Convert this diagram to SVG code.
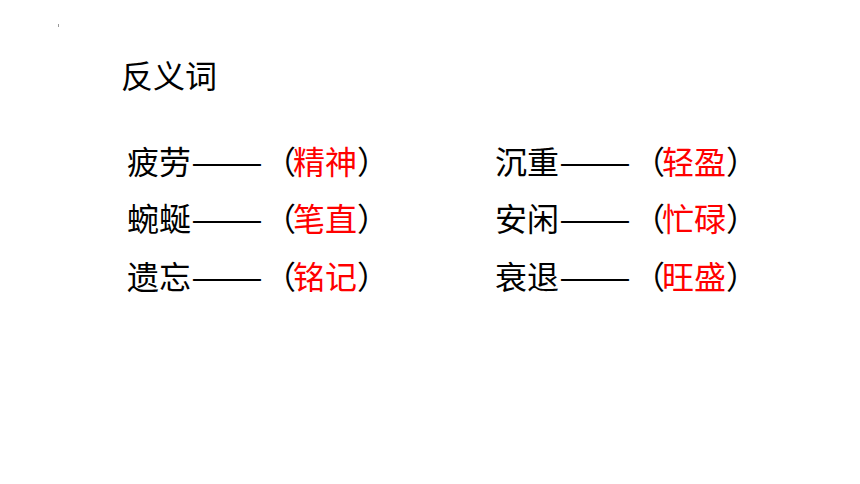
<svg xmlns="http://www.w3.org/2000/svg" width="860" height="484" viewBox="0 0 860 484">
<style>
text{font-family:"Noto Sans CJK SC","Microsoft YaHei",sans-serif;font-size:32px;fill:#000}
.r{fill:#ff0000}
</style>
<rect width="860" height="484" fill="#fff"/>
<rect x="58" y="24" width="1" height="3" fill="#999"/>
<g id="title"><text x="121" y="88">反义词</text></g>
<g id="row1-left">
<text x="127" y="174">疲劳</text>
<text x="191" y="174" textLength="72" lengthAdjust="spacingAndGlyphs">——</text>
<text x="264" y="174">（</text>
<text class="r" x="293" y="174">精神</text>
<text x="357" y="174">）</text>
</g>
<g id="row2-left">
<text x="127" y="231">蜿蜒</text>
<text x="191" y="231" textLength="72" lengthAdjust="spacingAndGlyphs">——</text>
<text x="264" y="231">（</text>
<text class="r" x="293" y="231">笔直</text>
<text x="357" y="231">）</text>
</g>
<g id="row3-left">
<text x="127" y="289">遗忘</text>
<text x="191" y="289" textLength="72" lengthAdjust="spacingAndGlyphs">——</text>
<text x="264" y="289">（</text>
<text class="r" x="293" y="289">铭记</text>
<text x="357" y="289">）</text>
</g>
<g id="row1-right">
<text x="495" y="174">沉重</text>
<text x="559" y="174" textLength="72" lengthAdjust="spacingAndGlyphs">——</text>
<text x="633" y="174">（</text>
<text class="r" x="662" y="174">轻盈</text>
<text x="726" y="174">）</text>
</g>
<g id="row2-right">
<text x="495" y="231">安闲</text>
<text x="559" y="231" textLength="72" lengthAdjust="spacingAndGlyphs">——</text>
<text x="633" y="231">（</text>
<text class="r" x="662" y="231">忙碌</text>
<text x="726" y="231">）</text>
</g>
<g id="row3-right">
<text x="495" y="289">衰退</text>
<text x="559" y="289" textLength="72" lengthAdjust="spacingAndGlyphs">——</text>
<text x="633" y="289">（</text>
<text class="r" x="662" y="289">旺盛</text>
<text x="726" y="289">）</text>
</g>
</svg>
